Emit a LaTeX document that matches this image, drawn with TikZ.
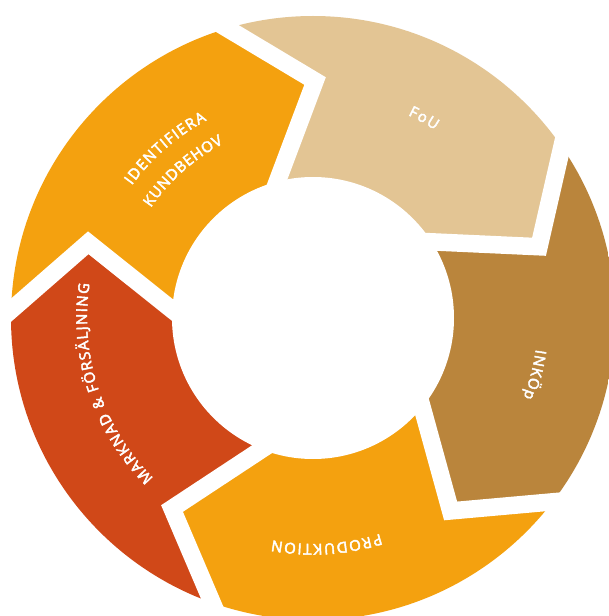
\documentclass[tikz,border=0pt]{standalone}
\usepackage{fontspec}
\setmainfont{Open Sans}
\newfontfamily\labfam{Open Sans}[FakeBold=3]
\usetikzlibrary{calc,decorations.text}
\definecolor{segorange}{RGB}{244,161,15}
\definecolor{segtan}{RGB}{227,197,148}
\definecolor{segbrown}{RGB}{186,133,60}
\definecolor{segred}{RGB}{208,72,24}
\newcommand\labfont{\labfam\fontsize{15pt}{16pt}\selectfont\color{white}}
\begin{document}
\labfont
\begin{tikzpicture}[x=1pt,y=1pt,
  gapband/.style={draw=white, line width=17.5pt, line join=miter},
  arcdeco/.style={decorate, decoration={text along path, text align={fit to path}}}]
\useasboundingbox (-313,-298) rectangle (295,318);
\fill[white] (-313,-298) rectangle (295,318);
% boundaries between the segments
\foreach \k in {0,...,4}{
  \pgfmathsetmacro\tt{89.5-72*\k}
  \pgfmathsetmacro\to{\tt+17}
  \pgfmathsetmacro\ti{\tt+15.2}
  \coordinate (T\k) at (\tt:237);
  \coordinate (Oc\k) at (\to:302);
  \coordinate (Ic\k) at (\ti:141);
  \coordinate (O\k) at ($(T\k)!1.3!(Oc\k)$);
  \coordinate (I\k) at ($(T\k)!1.4!(Ic\k)$);
  \pgfmathsetmacro\tf{\tt-26}
  \coordinate (F\k) at (\tf:600);
}
\begin{scope}
  \clip (0,0) circle (302);
  \fill[segtan]    (0,0) -- (I0) -- (T0) -- (O0) -- (F0) -- (O1) -- (T1) -- (I1) -- cycle;
  \fill[segbrown]  (0,0) -- (I1) -- (T1) -- (O1) -- (F1) -- (O2) -- (T2) -- (I2) -- cycle;
  \fill[segorange] (0,0) -- (I2) -- (T2) -- (O2) -- (F2) -- (O3) -- (T3) -- (I3) -- cycle;
  \fill[segred]    (0,0) -- (I3) -- (T3) -- (O3) -- (F3) -- (O4) -- (T4) -- (I4) -- cycle;
  \fill[segorange] (0,0) -- (I4) -- (T4) -- (O4) -- (F4) -- (O0) -- (T0) -- (I0) -- cycle;
\end{scope}
\foreach \k in {0,...,4}{
  \draw[gapband] (I\k) -- (T\k) -- (O\k);
}
\fill[white] (0,0) circle (141);
% labels
\path[arcdeco, decoration={text={|\labfont|IDENTIFIERA}}]
  (143.8:224.5) arc[start angle=143.8, end angle=118.25, radius=224.5];
\path[arcdeco, decoration={text={|\labfont|KUNDBEHOV}}]
  (145.8:196) arc[start angle=145.8, end angle=117.2, radius=196];
\path[arcdeco, decoration={text={|\labfont|FoU}}]
  (64.9:224) arc[start angle=64.9, end angle=57.0, radius=224];
\path[arcdeco, decoration={text={|\labfont|INKÖp}}]
  (-8.0:225) arc[start angle=-8.0, end angle=-20.7, radius=225];
\path[arcdeco, decoration={text={|\labfont|PRODUKTION}}]
  (-72.7:226) arc[start angle=-72.7, end angle=-100.4, radius=226];
\path[arcdeco, decoration={text={|\labfont|MARKNAD {\&} FÖRSÄLJNING}}]
  (225.1:226) arc[start angle=225.1, end angle=171.3, radius=226];
\end{tikzpicture}
\end{document}
